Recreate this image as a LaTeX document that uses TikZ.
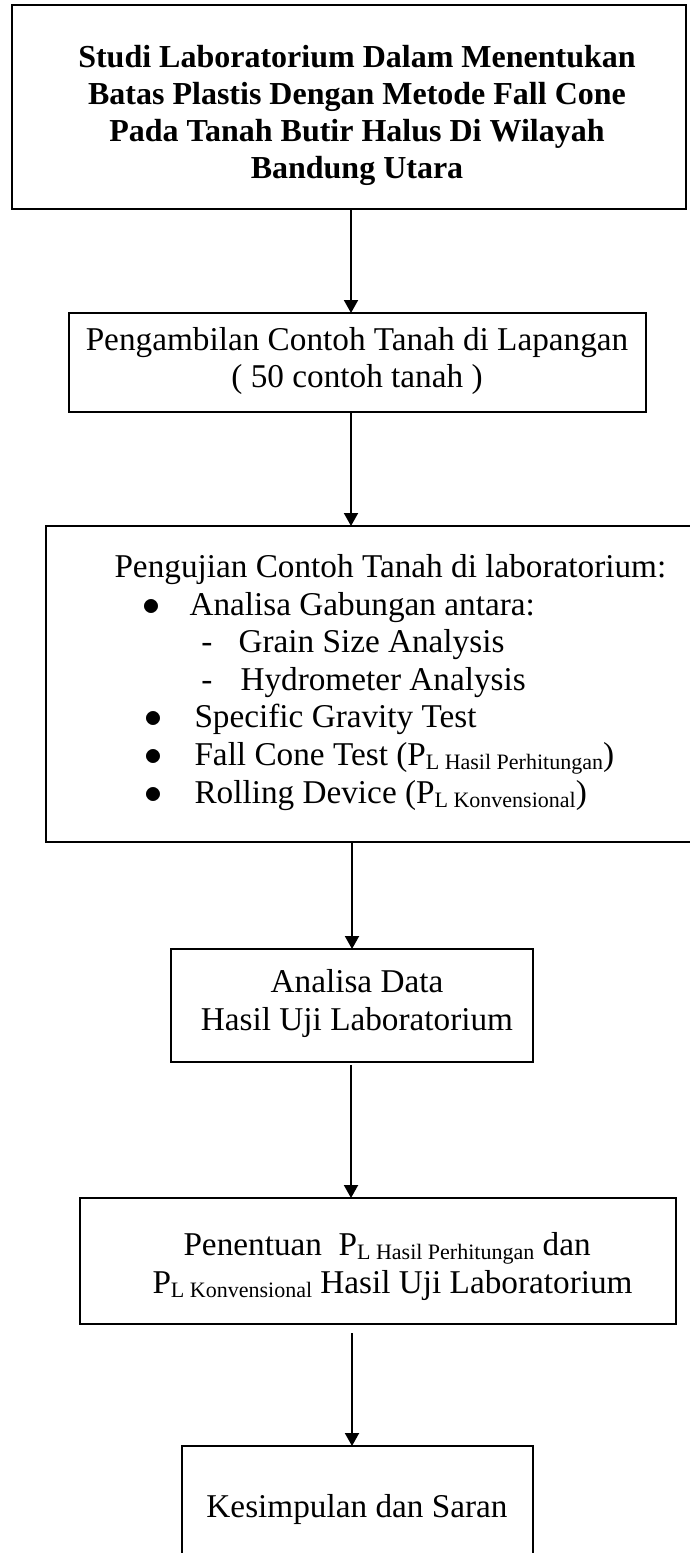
\documentclass[tikz,border=0pt]{standalone}
\usepackage{fontspec}
\setmainfont{Liberation Serif}
\usetikzlibrary{arrows.meta}
\newcommand{\mysub}[1]{\raisebox{-0.3ex}{\fontsize{8.8}{10}\selectfont #1}}
\begin{document}
\begin{tikzpicture}[x=0.4pt,y=-0.4pt,
  font=\fontsize{13.3}{15}\selectfont,
  box/.style={draw, line width=0.9pt, inner sep=0pt, outer sep=0pt},
  conn/.style={line width=0.8pt, -{Triangle[length=5.2pt,width=5.6pt]}},
  txt/.style={anchor=base, inner sep=0pt},
  ttl/.style={anchor=base, inner sep=0pt, font=\fontsize{12.8}{15}\selectfont\bfseries},
  txtl/.style={anchor=base west, inner sep=0pt}]
\useasboundingbox (0,0) rectangle (690,1553);
\clip (0,0) rectangle (690,1553);
% boxes
\node[box, minimum width=269.6pt, minimum height=81.6pt] (b1) at (349,107) {};
\node[box, minimum width=230.8pt, minimum height=39.6pt] (b2) at (357.5,362.5) {};
\node[box, minimum width=269.6pt, minimum height=126.4pt] (b3) at (383,684) {};
\node[box, minimum width=144.8pt, minimum height=45.2pt] (b4) at (352,1005.5) {};
\node[box, minimum width=238.4pt, minimum height=50.4pt] (b5) at (378,1261) {};
\node[box, minimum width=140.4pt, minimum height=61.6pt] (b6) at (357.5,1523) {};
% axis of the connectors
\coordinate (ax) at (351,0);
\coordinate (ay) at (352,0);
\draw[conn] (b1.south -| ax) -- (b2.north -| ax);
\draw[conn] (b2.south -| ax) -- (b3.north -| ax);
\draw[conn] (b3.south -| ay) -- (b4.north -| ay);
\draw[conn, shorten <=1.2pt] (b4.south -| ax) -- (b5.north -| ax);
\draw[conn, shorten <=3.6pt] (b5.south -| ay) -- (b6.north -| ay);
% texts box 1
\node[ttl] (t11) at (357,67) {Studi Laboratorium Dalam Menentukan};
\node[ttl] (t12) at (357,104) {Batas Plastis Dengan Metode Fall Cone};
\node[ttl] (t13) at (357,141) {Pada Tanah Butir Halus Di Wilayah};
\node[ttl] (t14) at (357,178) {Bandung Utara};
% box 2
\node[txt] (t21) at (357,350) {Pengambilan Contoh Tanah di Lapangan};
\node[txt] (t22) at (357,387) {( 50 contoh tanah )};
% box 3
\node[txtl] (t31) at (114,577) {Pengujian Contoh Tanah di laboratorium:};
\node[txt] (d1) at (151,615) {$\bullet$};
\node[txtl] (t32) at (189,615) {Analisa Gabungan antara:};
\node[txt] (h1) at (207,652) {-};
\node[txtl] (t33) at (238,652) {Grain Size Analysis};
\node[txt] (h2) at (207,690) {-};
\node[txtl] (t34) at (240,690) {Hydrometer Analysis};
\node[txt] (d2) at (153,727) {$\bullet$};
\node[txtl] (t35) at (194,727) {Specific Gravity Test};
\node[txt] (d3) at (153,765) {$\bullet$};
\node[txtl] (t36) at (194,765) {Fall Cone Test (P\mysub{L Hasil Perhitungan})};
\node[txt] (d4) at (153,803) {$\bullet$};
\node[txtl] (t37) at (194,803) {Rolling Device (P\mysub{L Konvensional})};
% box 4
\node[txt] (t41) at (357,992) {Analisa Data};
\node[txt] (t42) at (357,1030) {Hasil Uji Laboratorium};
% box 5
\node[txtl] (t51) at (183,1255) {Penentuan\ \ P\mysub{L Hasil Perhitungan} dan};
\node[txtl] (t52) at (152,1293) {P\mysub{L Konvensional} Hasil Uji Laboratorium};
% box 6
\node[txt] (t61) at (357,1517) {Kesimpulan dan Saran};
\end{tikzpicture}
\end{document}
